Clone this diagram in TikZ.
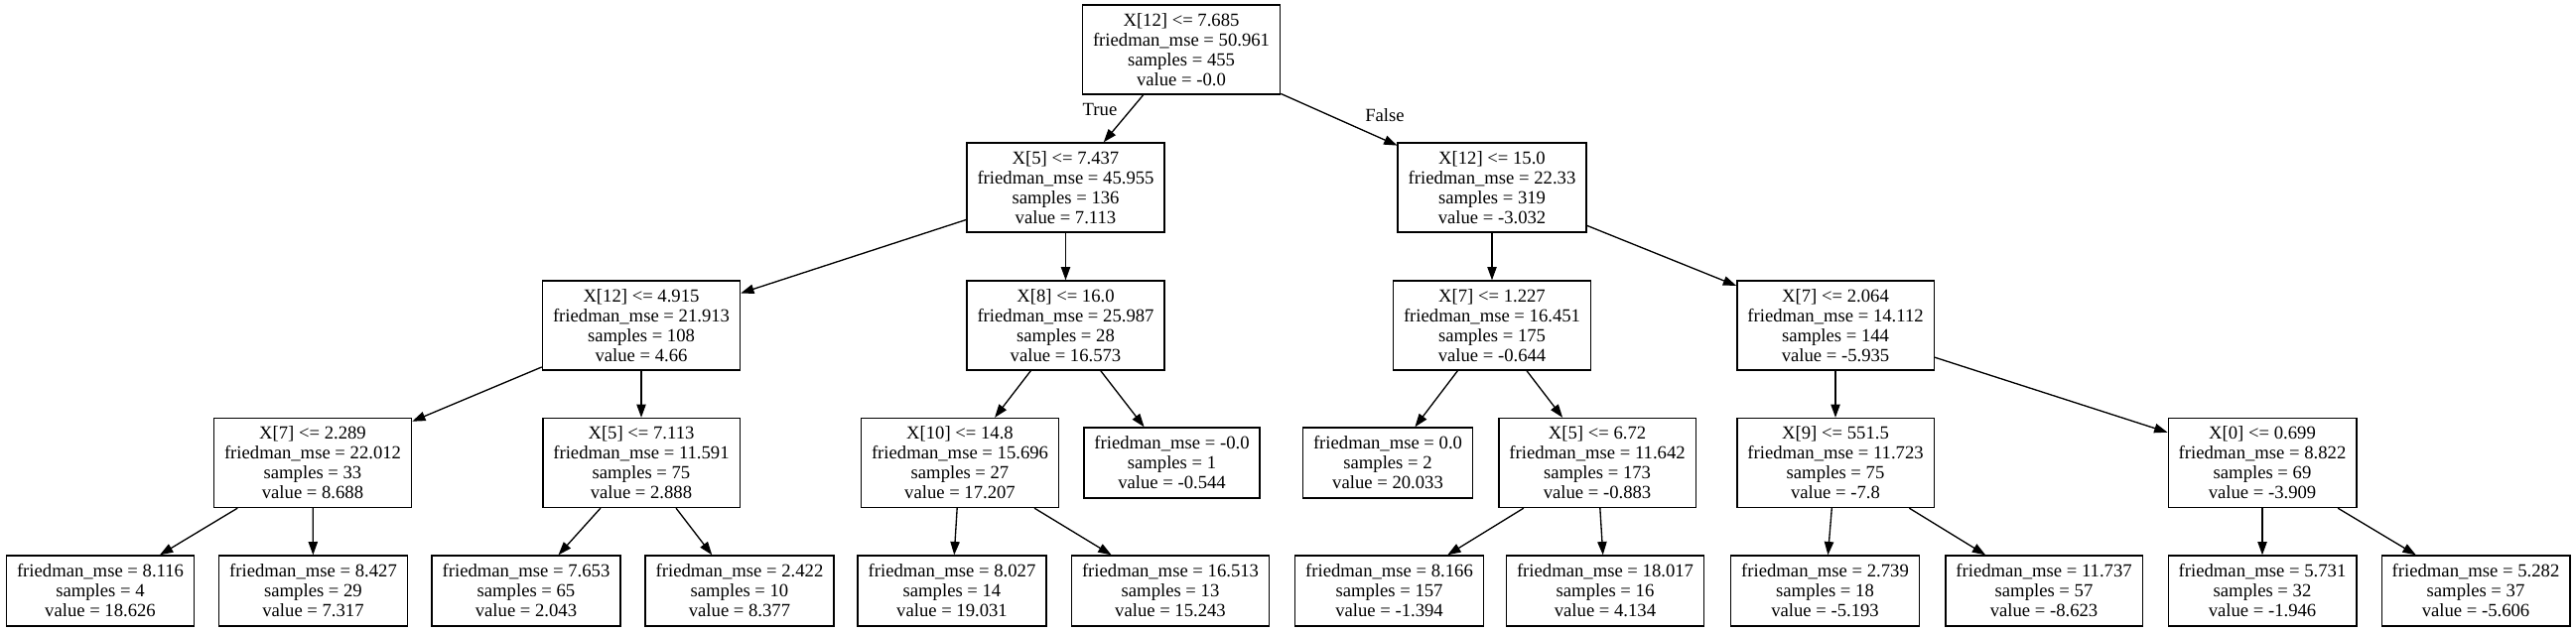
\documentclass[tikz,border=0pt]{standalone}
\usepackage{fontspec}
\setmainfont{Liberation Serif}
\usetikzlibrary{arrows.meta}
\tikzset{
  tnode/.style={draw, line width=1pt, rectangle, align=center,
    font=\fontsize{14}{15}\selectfont, inner xsep=7.9pt, inner ysep=2pt,
    minimum height=67.5pt},
  leafnode/.style={tnode, minimum height=53.25pt},
  conn/.style={-{Triangle[length=10pt,width=7pt]}, line width=1pt},
  lbl/.style={font=\fontsize{14}{15}\selectfont, inner sep=0pt}
}
\begin{document}
\begin{tikzpicture}[x=0.75pt, y=-0.75pt]
\fill[white] (0,0) rectangle (2595,636);
\useasboundingbox (0,0) rectangle (2595,636);
% level 0
\node[tnode] (r) at (1190,50) {X[12] <= 7.685\\friedman\_mse = 50.961\\samples = 455\\value = -0.0};
% level 1
\node[tnode] (a) at (1073.5,189) {X[5] <= 7.437\\friedman\_mse = 45.955\\samples = 136\\value = 7.113};
\node[tnode] (b) at (1503,189) {X[12] <= 15.0\\friedman\_mse = 22.33\\samples = 319\\value = -3.032};
% level 2
\node[tnode] (aa) at (646,328) {X[12] <= 4.915\\friedman\_mse = 21.913\\samples = 108\\value = 4.66};
\node[tnode] (ab) at (1073.5,328) {X[8] <= 16.0\\friedman\_mse = 25.987\\samples = 28\\value = 16.573};
\node[tnode] (ba) at (1503,328) {X[7] <= 1.227\\friedman\_mse = 16.451\\samples = 175\\value = -0.644};
\node[tnode] (bb) at (1849,328) {X[7] <= 2.064\\friedman\_mse = 14.112\\samples = 144\\value = -5.935};
% level 3
\node[tnode] (aaa) at (315,466.5) {X[7] <= 2.289\\friedman\_mse = 22.012\\samples = 33\\value = 8.688};
\node[tnode] (aab) at (646,466.5) {X[5] <= 7.113\\friedman\_mse = 11.591\\samples = 75\\value = 2.888};
\node[tnode] (aba) at (967,466.5) {X[10] <= 14.8\\friedman\_mse = 15.696\\samples = 27\\value = 17.207};
\node[leafnode] (abb) at (1180.5,466.5) {friedman\_mse = -0.0\\samples = 1\\value = -0.544};
\node[leafnode] (baa) at (1398,466.5) {friedman\_mse = 0.0\\samples = 2\\value = 20.033};
\node[tnode] (bab) at (1609,466.5) {X[5] <= 6.72\\friedman\_mse = 11.642\\samples = 173\\value = -0.883};
\node[tnode] (bba) at (1849,466.5) {X[9] <= 551.5\\friedman\_mse = 11.723\\samples = 75\\value = -7.8};
\node[tnode] (bbb) at (2279,466.5) {X[0] <= 0.699\\friedman\_mse = 8.822\\samples = 69\\value = -3.909};
% level 4
\node[leafnode] (l1) at (101,595.5) {friedman\_mse = 8.116\\samples = 4\\value = 18.626};
\node[leafnode] (l2) at (315.5,595.5) {friedman\_mse = 8.427\\samples = 29\\value = 7.317};
\node[leafnode] (l3) at (530,595.5) {friedman\_mse = 7.653\\samples = 65\\value = 2.043};
\node[leafnode] (l4) at (745,595.5) {friedman\_mse = 2.422\\samples = 10\\value = 8.377};
\node[leafnode] (l5) at (959,595.5) {friedman\_mse = 8.027\\samples = 14\\value = 19.031};
\node[leafnode] (l6) at (1179,595.5) {friedman\_mse = 16.513\\samples = 13\\value = 15.243};
\node[leafnode] (l7) at (1399.5,595.5) {friedman\_mse = 8.166\\samples = 157\\value = -1.394};
\node[leafnode] (l8) at (1617,595.5) {friedman\_mse = 18.017\\samples = 16\\value = 4.134};
\node[leafnode] (l9) at (1838.5,595.5) {friedman\_mse = 2.739\\samples = 18\\value = -5.193};
\node[leafnode] (l10) at (2059,595.5) {friedman\_mse = 11.737\\samples = 57\\value = -8.623};
\node[leafnode] (l11) at (2279,595.5) {friedman\_mse = 5.731\\samples = 32\\value = -1.946};
\node[leafnode] (l12) at (2494,595.5) {friedman\_mse = 5.282\\samples = 37\\value = -5.606};
% edge labels
\node[lbl] (tl) at (1108,110) {True};
\node[lbl] (fl) at (1395,116) {False};
% edges
\draw[conn] (r) -- (a);
\draw[conn] (r) -- (b);
\draw[conn] (a) -- (aa);
\draw[conn] (a) -- (ab);
\draw[conn] (b) -- (ba);
\draw[conn] (b) -- (bb);
\draw[conn] (aa) -- (aaa);
\draw[conn] (aa) -- (aab);
\draw[conn] (ab) -- (aba);
\draw[conn] (ab) -- (abb);
\draw[conn] (ba) -- (baa);
\draw[conn] (ba) -- (bab);
\draw[conn] (bb) -- (bba);
\draw[conn] (bb) -- (bbb);
\draw[conn] (aaa) -- (l1);
\draw[conn] (aaa) -- (l2);
\draw[conn] (aab) -- (l3);
\draw[conn] (aab) -- (l4);
\draw[conn] (aba) -- (l5);
\draw[conn] (aba) -- (l6);
\draw[conn] (bab) -- (l7);
\draw[conn] (bab) -- (l8);
\draw[conn] (bba) -- (l9);
\draw[conn] (bba) -- (l10);
\draw[conn] (bbb) -- (l11);
\draw[conn] (bbb) -- (l12);
\end{tikzpicture}
\end{document}
